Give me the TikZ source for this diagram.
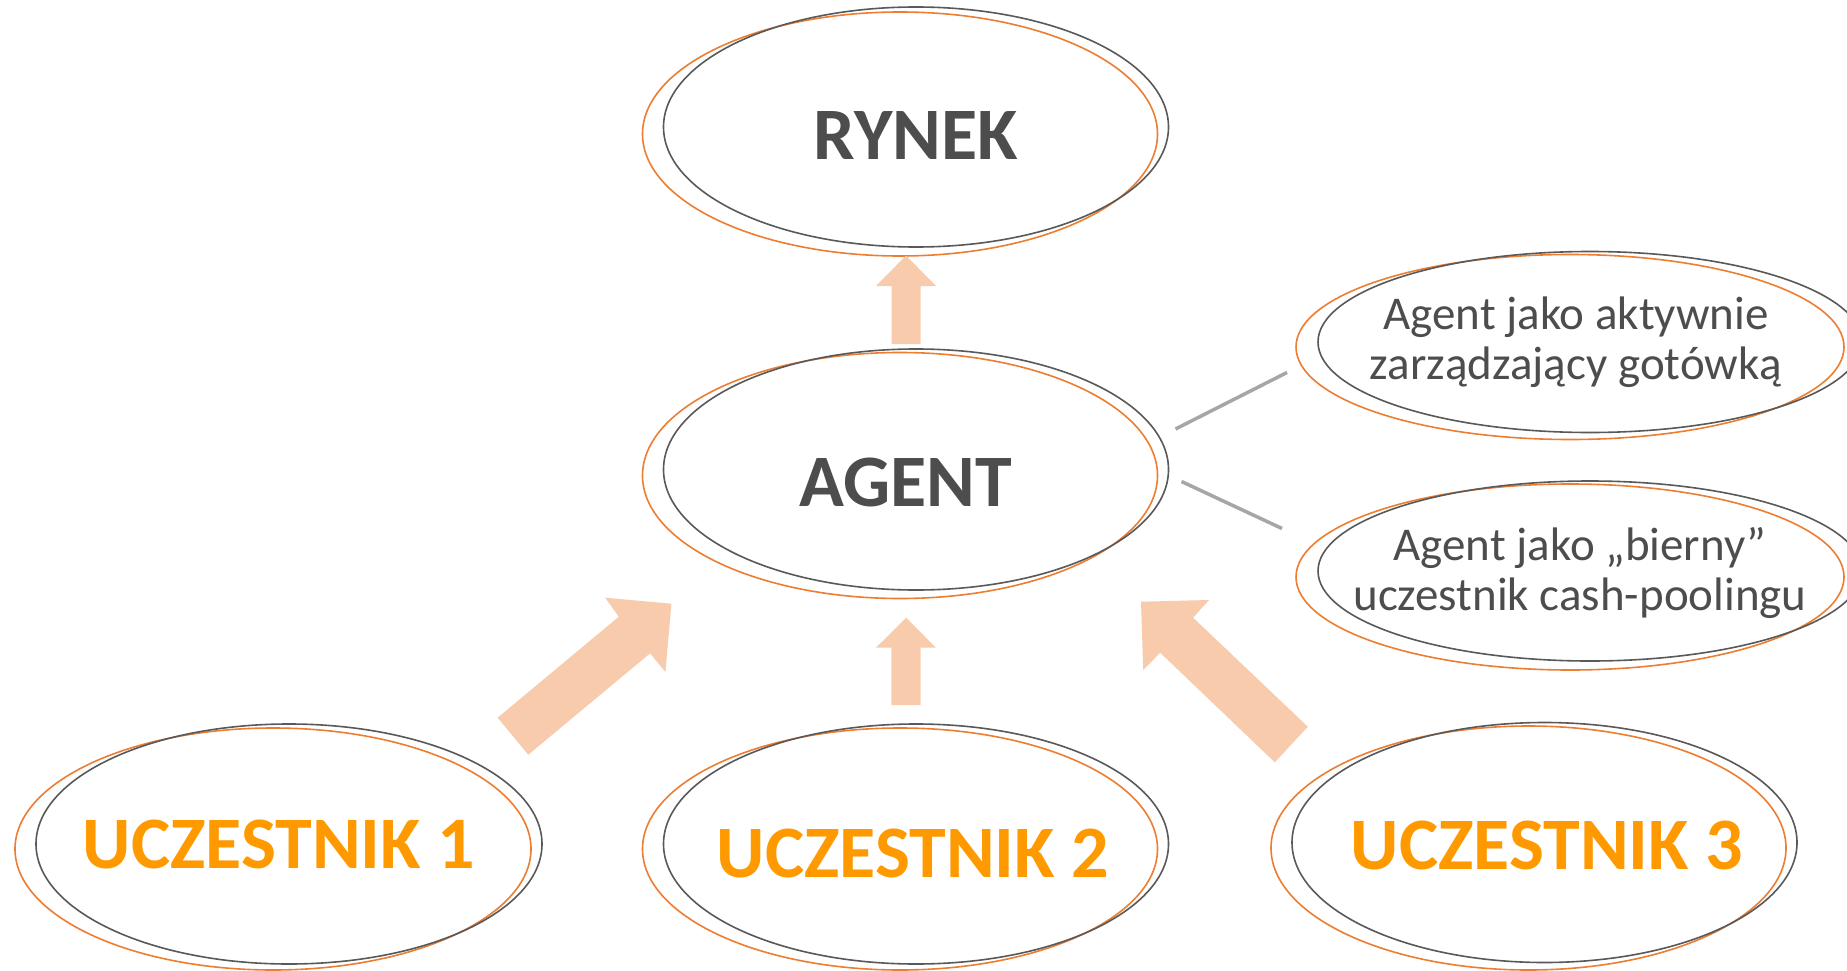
\documentclass[tikz,border=0pt]{standalone}
\usepackage{fontspec}
\setmainfont{Carlito}
\usetikzlibrary{shapes.geometric}
\definecolor{ellor}{RGB}{237,125,49}
\definecolor{ellgr}{RGB}{89,89,89}
\definecolor{txtgr}{RGB}{77,77,77}
\definecolor{ucz}{RGB}{255,153,0}
\definecolor{arrfill}{RGB}{248,203,173}
\definecolor{lngr}{RGB}{166,166,166}
\begin{document}
\begin{tikzpicture}[x=1pt,y=-1pt,
  orell/.style={ellipse, draw=ellor, line width=1.6pt, inner sep=0pt},
  grell/.style={ellipse, draw=ellgr, line width=1.6pt, inner sep=0pt},
  bigtxt/.style={font=\bfseries\fontsize{74}{80}\selectfont, text=txtgr, inner sep=0pt, anchor=base},
  ucztxt/.style={bigtxt, text=ucz},
  smtxt/.style={font=\fontsize{47}{50}\selectfont, text=txtgr, align=center, inner sep=0pt, anchor=base},
  blockarr/.style={fill=arrfill, draw=none},
  link/.style={draw=lngr, line width=3.5pt}]
\useasboundingbox (0,0) rectangle (1847,971);
\clip (0,0) rectangle (1847,971);
\fill[white] (0,0) rectangle (1847,971);

% RYNEK
\node[orell, minimum width=515, minimum height=244] (rynek-o) at (900,134) {};
\node[grell, minimum width=505, minimum height=240] (rynek) at (916,127) {};
\node[bigtxt] (rynek-t) at (916,160) {RYNEK};

% AGENT
\node[orell, minimum width=515, minimum height=246] (agent-o) at (900,475.5) {};
\node[grell, minimum width=505, minimum height=241] (agent) at (916,469.5) {};
\node[bigtxt] (agent-t) at (906,506.5) {AGENT};

% UCZESTNIK 1
\node[orell, minimum width=516, minimum height=242] (u1-o) at (273,849) {};
\node[grell, minimum width=506, minimum height=240] (u1) at (289,844) {};
\node[ucztxt] (u1-t) at (279,868.5) {UCZESTNIK 1};

% UCZESTNIK 2
\node[orell, minimum width=515, minimum height=242] (u2-o) at (900,849) {};
\node[grell, minimum width=505, minimum height=240] (u2) at (916,844) {};
\node[ucztxt] (u2-t) at (913,877) {UCZESTNIK 2};

% UCZESTNIK 3
\node[orell, minimum width=515, minimum height=244] (u3-o) at (1528.5,848) {};
\node[grell, minimum width=505, minimum height=240] (u3) at (1544.5,842.5) {};
\node[ucztxt] (u3-t) at (1547,869.3) {UCZESTNIK 3};

% right ellipses
\node[orell, minimum width=548, minimum height=185] (r1-o) at (1570,347) {};
\node[grell, minimum width=544, minimum height=181] (r1) at (1590,342) {};
\node[smtxt] (r1-t) at (1576,379) {Agent jako aktywnie\\zarządzający gotówką};

\node[orell, minimum width=548, minimum height=186] (r2-o) at (1570,577) {};
\node[grell, minimum width=544, minimum height=180] (r2) at (1590,571) {};
\node[smtxt] (r2-t) at (1580,610) {Agent jako „bierny”\\uczestnik cash-poolingu};

% connectors
\coordinate (l1a) at (1175.5,429);
\coordinate (l1b) at (1287,372.5);
\coordinate (l2a) at (1181.5,481.5);
\coordinate (l2b) at (1282,528.5);
\draw[link] (l1a) -- (l1b);
\draw[link] (l2a) -- (l2b);

% block arrows
\fill[blockarr] (891.5,344) -- (891.5,286) -- (876,286) -- (906,255.6) -- (936,286) -- (920.5,286) -- (920.5,344) -- cycle;
\fill[blockarr] (891.4,705) -- (891.4,647.7) -- (876,647.7) -- (906.2,617.7) -- (935.8,647.7) -- (920.5,647.7) -- (920.5,705) -- cycle;
\fill[blockarr] (497.6,717.7) -- (618.8,616.7) -- (605.1,597.7) -- (671.4,603.7) -- (665.4,672) -- (650.1,653.3) -- (528.3,754.7) -- cycle;
\fill[blockarr] (1307.8,726.7) -- (1193.1,617.7) -- (1209,600) -- (1141,601.7) -- (1143.2,670) -- (1160.2,652.7) -- (1274.8,762.3) -- cycle;
\end{tikzpicture}
\end{document}
